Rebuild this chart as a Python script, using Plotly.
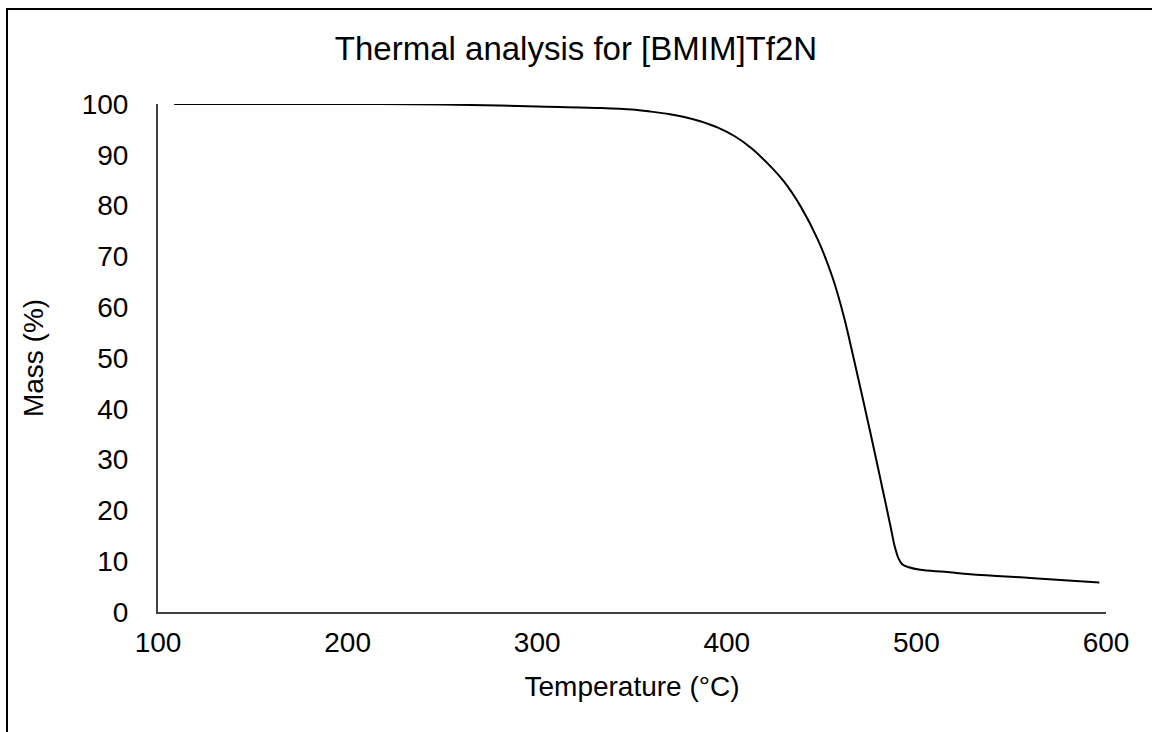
import plotly.graph_objects as go

temperature = [108.5, 150, 200, 250, 280, 300, 333, 350, 360, 370, 377, 386, 395, 404, 413, 421,
               430, 439, 448, 456, 462, 467, 471, 474, 478, 481, 484, 486.5, 488.5, 490.5,
               492.5, 496, 502, 515, 534, 560, 580, 596.5]
mass = [100, 100, 100, 99.9, 99.7, 99.5, 99.2, 98.9, 98.5, 98.0, 97.5, 96.6, 95.4, 93.7, 91.3,
        88.5, 84.8, 79.8, 73.3, 65.6, 57.8, 49.8, 43.2, 38.2, 31.4, 26.2, 21.0, 16.6, 13.0,
        10.6, 9.4, 8.8, 8.3, 7.9, 7.3, 6.7, 6.2, 5.8]
x_ticks = [100, 200, 300, 400, 500, 600]
y_ticks = [0, 10, 20, 30, 40, 50, 60, 70, 80, 90, 100]

W, H = 1152, 732
L, R, T, B = 158, 46, 104, 120

fig = go.Figure()
fig.add_trace(go.Scatter(x=temperature, y=mass, mode="lines",
                         line=dict(color="black", width=2, shape="spline", smoothing=1.0),
                         showlegend=False, hoverinfo="skip"))

font = "Liberation Sans, Arial, sans-serif"
fig.update_layout(
    width=W, height=H,
    margin=dict(l=L, r=R, t=T, b=B),
    paper_bgcolor="white", plot_bgcolor="white",
    font=dict(family=font, color="black"),
    title=dict(text="Thermal analysis for [BMIM]Tf2N", x=0.5, xref="container", xanchor="center",
               y=1 - 48 / H, yref="container", yanchor="middle",
               font=dict(size=33, family=font, color="black")),
    xaxis=dict(range=[100, 600], tickvals=x_ticks, showgrid=False, zeroline=False,
               showline=True, linecolor="#404040", linewidth=2, ticks="",
               tickfont=dict(size=28, family=font, color="black"),
               ticklabelstandoff=4,
               title=dict(text="Temperature (°C)", font=dict(size=28, family=font, color="black"),
                          standoff=20)),
    yaxis=dict(range=[0, 100], tickvals=y_ticks, showgrid=False, zeroline=False,
               showline=True, linecolor="#404040", linewidth=2, ticks="",
               tickfont=dict(size=28, family=font, color="black"),
               ticklabelstandoff=22,
               title=dict(text="Mass (%)", font=dict(size=28, family=font, color="black"),
                          standoff=30)),
)

# outer chart frame (cropped at right and bottom in the reference)
fig.add_shape(type="rect", xref="paper", yref="paper",
              x0=(7 - L) / (W - L - R), x1=2,
              y0=-1, y1=(H - B - 9) / (H - T - B),
              line=dict(color="black", width=2), fillcolor="rgba(0,0,0,0)", layer="below")

fig.write_html("out.html", config={"displayModeBar": False},
               post_script="document.body.style.margin='0';")
